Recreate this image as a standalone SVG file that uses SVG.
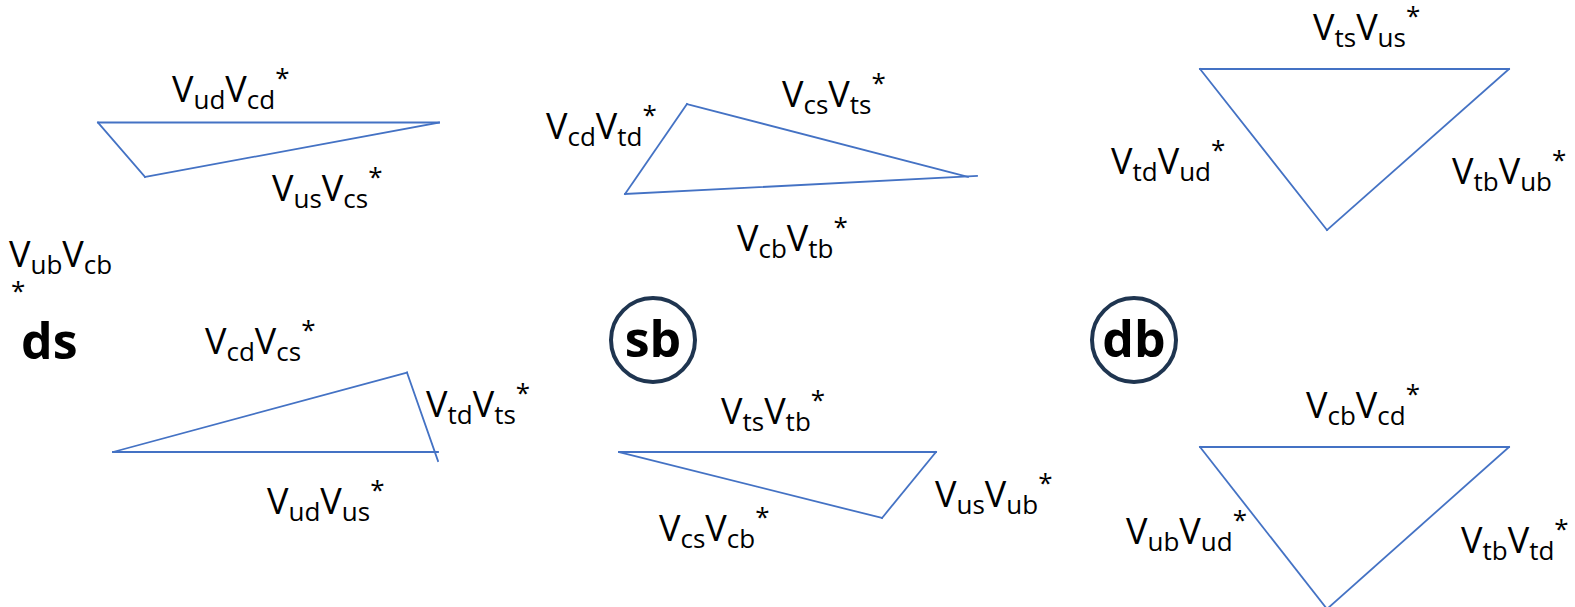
<svg xmlns="http://www.w3.org/2000/svg" width="1575" height="607" viewBox="0 0 1575 607">
<style>
.e{stroke:#4472C4;stroke-width:1.8;fill:none;stroke-linecap:square}
.t{font-family:"Open Sans","Noto Sans",sans-serif;font-size:36px;fill:#000}
.s{font-size:26px}
.b{font-family:"Open Sans","Noto Sans",sans-serif;font-size:50px;font-weight:bold;fill:#000}
.c{fill:none;stroke:#1F3550;stroke-width:4}
</style>
<rect width="1575" height="607" fill="#fff"/>
<g id="connectors">
  <g id="tri-ds-top">
    <line class="e" x1="98" y1="122.5" x2="439" y2="122.5"/>
    <line class="e" x1="439" y1="122.5" x2="145" y2="177"/>
    <line class="e" x1="145" y1="177" x2="98" y2="122.5"/>
  </g>
  <g id="tri-ds-bottom">
    <line class="e" x1="113" y1="452" x2="438" y2="452"/>
    <line class="e" x1="113" y1="452" x2="407" y2="372.5"/>
    <line class="e" x1="407" y1="372.5" x2="438" y2="461"/>
  </g>
  <g id="tri-sb-top">
    <line class="e" x1="625" y1="194" x2="687" y2="104"/>
    <line class="e" x1="687" y1="104" x2="968" y2="177"/>
    <line class="e" x1="625" y1="194" x2="977" y2="176"/>
  </g>
  <g id="tri-sb-bottom">
    <line class="e" x1="619" y1="452" x2="936" y2="452"/>
    <line class="e" x1="936" y1="452" x2="882" y2="518"/>
    <line class="e" x1="882" y1="518" x2="619" y2="452"/>
  </g>
  <g id="tri-db-top">
    <line class="e" x1="1200" y1="69" x2="1509" y2="69"/>
    <line class="e" x1="1509" y1="69" x2="1327" y2="230"/>
    <line class="e" x1="1327" y1="230" x2="1200" y2="69"/>
  </g>
  <g id="tri-db-bottom">
    <line class="e" x1="1200" y1="447" x2="1509" y2="447"/>
    <line class="e" x1="1509" y1="447" x2="1327" y2="609"/>
    <line class="e" x1="1327" y1="609" x2="1200" y2="447"/>
  </g>
</g>
<g id="ds">
  <text class="b" x="21" y="359">ds</text>
</g>
<g id="sb">
  <circle class="c" cx="653" cy="340" r="42"/>
  <text class="b" x="653" y="357" text-anchor="middle">sb</text>
</g>
<g id="db">
  <circle class="c" cx="1134" cy="340" r="42"/>
  <text class="b" x="1134" y="357" text-anchor="middle">db</text>
</g>
<g id="labels">
  <g id="l1"><text class="t" x="172" y="102">V<tspan class="s" dy="7">ud</tspan><tspan dy="-7">V</tspan><tspan class="s" dy="7">cd</tspan><tspan class="s" dy="-22">*</tspan></text></g>
  <g id="l2"><text class="t" x="272" y="201">V<tspan class="s" dy="7">us</tspan><tspan dy="-7">V</tspan><tspan class="s" dy="7">cs</tspan><tspan class="s" dy="-22">*</tspan></text></g>
  <g id="l3"><text class="t" x="9" y="267">V<tspan class="s" dy="7">ub</tspan><tspan dy="-7">V</tspan><tspan class="s" dy="7">cb</tspan></text><text class="t s" x="11" y="300">*</text></g>
  <g id="l5"><text class="t" x="205" y="354">V<tspan class="s" dy="7">cd</tspan><tspan dy="-7">V</tspan><tspan class="s" dy="7">cs</tspan><tspan class="s" dy="-22">*</tspan></text></g>
  <g id="l6"><text class="t" x="426" y="417">V<tspan class="s" dy="7">td</tspan><tspan dy="-7">V</tspan><tspan class="s" dy="7">ts</tspan><tspan class="s" dy="-22">*</tspan></text></g>
  <g id="l7"><text class="t" x="267" y="514">V<tspan class="s" dy="7">ud</tspan><tspan dy="-7">V</tspan><tspan class="s" dy="7">us</tspan><tspan class="s" dy="-22">*</tspan></text></g>
  <g id="l9"><text class="t" x="546" y="139">V<tspan class="s" dy="7">cd</tspan><tspan dy="-7">V</tspan><tspan class="s" dy="7">td</tspan><tspan class="s" dy="-22">*</tspan></text></g>
  <g id="l10"><text class="t" x="782" y="107">V<tspan class="s" dy="7">cs</tspan><tspan dy="-7">V</tspan><tspan class="s" dy="7">ts</tspan><tspan class="s" dy="-22">*</tspan></text></g>
  <g id="l11"><text class="t" x="737" y="251">V<tspan class="s" dy="7">cb</tspan><tspan dy="-7">V</tspan><tspan class="s" dy="7">tb</tspan><tspan class="s" dy="-22">*</tspan></text></g>
  <g id="l12"><text class="t" x="721" y="424">V<tspan class="s" dy="7">ts</tspan><tspan dy="-7">V</tspan><tspan class="s" dy="7">tb</tspan><tspan class="s" dy="-22">*</tspan></text></g>
  <g id="l13"><text class="t" x="935" y="507">V<tspan class="s" dy="7">us</tspan><tspan dy="-7">V</tspan><tspan class="s" dy="7">ub</tspan><tspan class="s" dy="-22">*</tspan></text></g>
  <g id="l14"><text class="t" x="659" y="541">V<tspan class="s" dy="7">cs</tspan><tspan dy="-7">V</tspan><tspan class="s" dy="7">cb</tspan><tspan class="s" dy="-22">*</tspan></text></g>
  <g id="l16"><text class="t" x="1313" y="40">V<tspan class="s" dy="7">ts</tspan><tspan dy="-7">V</tspan><tspan class="s" dy="7">us</tspan><tspan class="s" dy="-22">*</tspan></text></g>
  <g id="l17"><text class="t" x="1111" y="174">V<tspan class="s" dy="7">td</tspan><tspan dy="-7">V</tspan><tspan class="s" dy="7">ud</tspan><tspan class="s" dy="-22">*</tspan></text></g>
  <g id="l18"><text class="t" x="1452" y="184">V<tspan class="s" dy="7">tb</tspan><tspan dy="-7">V</tspan><tspan class="s" dy="7">ub</tspan><tspan class="s" dy="-22">*</tspan></text></g>
  <g id="l19"><text class="t" x="1306" y="418">V<tspan class="s" dy="7">cb</tspan><tspan dy="-7">V</tspan><tspan class="s" dy="7">cd</tspan><tspan class="s" dy="-22">*</tspan></text></g>
  <g id="l20"><text class="t" x="1126" y="544">V<tspan class="s" dy="7">ub</tspan><tspan dy="-7">V</tspan><tspan class="s" dy="7">ud</tspan><tspan class="s" dy="-22">*</tspan></text></g>
  <g id="l21"><text class="t" x="1461" y="553">V<tspan class="s" dy="7">tb</tspan><tspan dy="-7">V</tspan><tspan class="s" dy="7">td</tspan><tspan class="s" dy="-22">*</tspan></text></g>
</g>
</svg>
